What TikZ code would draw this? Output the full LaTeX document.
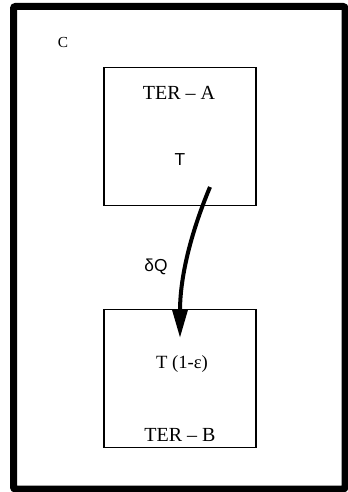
\documentclass[tikz,border=0pt]{standalone}
\usepackage{fontspec}
\setmainfont{Liberation Serif}
\newfontfamily\arialfont{Liberation Sans}
\usetikzlibrary{arrows.meta}
\begin{document}
\begin{tikzpicture}[x=0.75pt, y=-0.75pt,
      reservoir/.style = {draw, line width=0.8pt, minimum width=114pt, minimum height=104pt, inner sep=0pt},
      serif text/.style = {inner sep=0pt, font=\fontsize{15}{17}\selectfont},
      sans text/.style = {inner sep=0pt, font=\arialfont\fontsize{13}{15}\selectfont}]
      \useasboundingbox (0,0) rectangle (347,492);
      \draw[line width=5.25pt, rounded corners=1.5pt] (13.5,6.5) rectangle (345,489);
      \node[serif text, font=\fontsize{11.5}{13}\selectfont] (sys) at (63,42) {C};
      \node[reservoir] (terA) at (180,136.5) {};
      \node[reservoir] (terB) at (180,378.5) {};
      \node[serif text] (nameA) at (179,93) {TER -- A};
      \node[sans text] (tempA) at (180,160) {T};
      \node[serif text, font=\fontsize{14}{16}\selectfont] (tempB) at (182,364) {T (1-ε)};
      \node[serif text] (nameB) at (180,435) {TER -- B};
      \node[sans text] (heat) at (156,267) {δQ};
      \coordinate (qstart) at (210,187);
      \coordinate (qend) at (180,338);
      \draw[line width=3pt, -{Triangle[length=21pt, width=11pt]}] (qstart) .. controls (192,230) and (180,275) .. (qend);
\end{tikzpicture}
\end{document}
